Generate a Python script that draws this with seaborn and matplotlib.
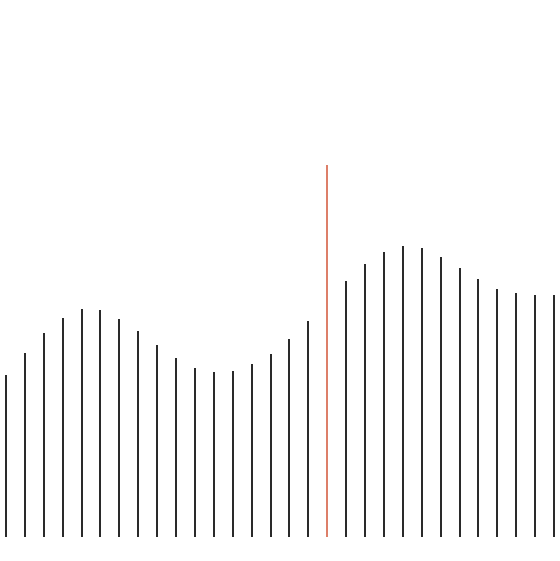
import numpy as np
import pandas as pd
import seaborn as sns
import matplotlib.pyplot as plt

# heights of the needles (arbitrary units)
steps = list(range(30))
heights = [162, 184, 204, 219, 228, 227, 218, 206, 192, 179, 169, 165, 166, 173, 183, 198, 216,
           372, 256, 273, 285, 291, 289, 280, 269, 258, 248, 244, 242, 242]
highlight_step = 17

colors = {"normal": "#2a2a2a", "highlight": "#f07356"}

df = pd.DataFrame({
    "step": steps,
    "height": heights,
    "kind": ["highlight" if s == highlight_step else "normal" for s in steps],
})

sns.set_style("white")
fig = plt.figure(figsize=(5.6, 5.61), dpi=100)
ax = fig.add_axes([0, 24 / 561, 1, 537 / 561])

# bars about 2 px wide so they read as thin needles
sns.barplot(data=df, x="step", y="height", hue="kind", palette=colors,
            dodge=False, width=2 / 18.9, linewidth=0, legend=False, ax=ax)

ax.set_xlim(-6 / 18.9, 29 + 6 / 18.9)
ax.set_ylim(0, 537)
ax.set_axis_off()

fig.savefig("out.png", dpi=100)
